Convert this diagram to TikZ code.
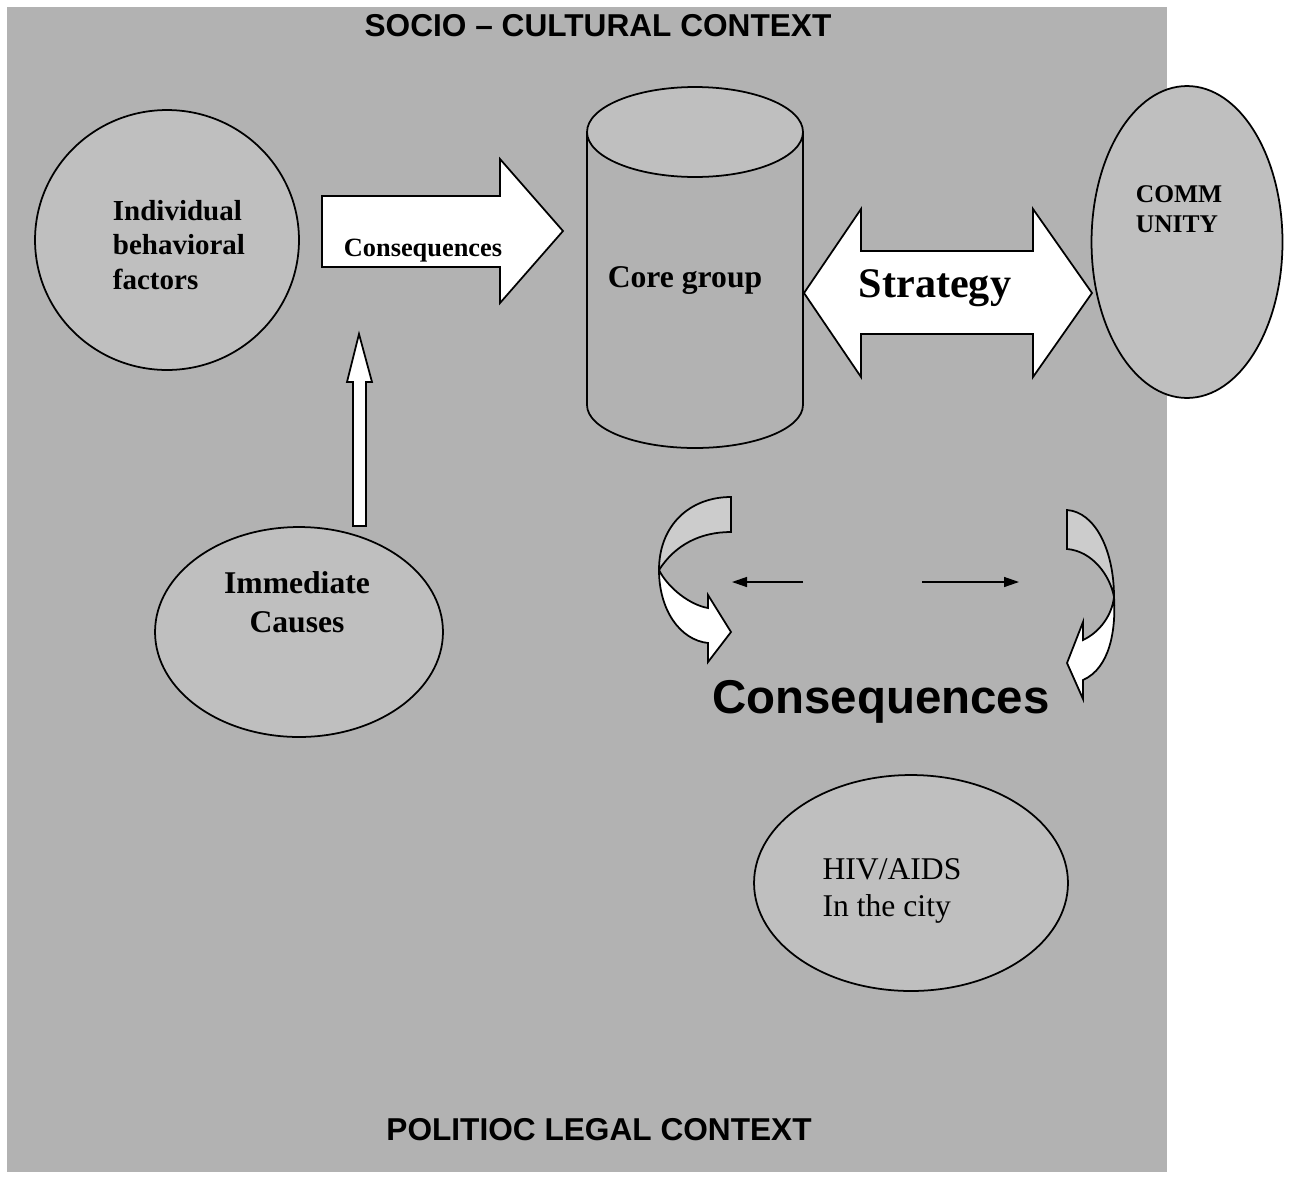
\documentclass[tikz,border=0pt]{standalone}
\usepackage{fontspec}
\setmainfont{Liberation Serif}
\setsansfont{Liberation Sans}
\usetikzlibrary{shapes.geometric,arrows.meta}

\definecolor{ctxgray}{gray}{0.70}
\definecolor{blobgray}{gray}{0.75}
\definecolor{bandgray}{gray}{0.80}

\begin{document}
\begin{tikzpicture}[x=0.02cm, y=-0.02cm, line width=1pt,
        blob/.style={ellipse, draw, fill=blobgray, inner sep=0pt},
        block/.style={draw, fill=white, line join=miter},
        band/.style={draw, fill=bandgray},
        lbl/.style={inner sep=0pt, font=\bfseries},
        ctx/.style={inner sep=0pt, font=\sffamily\bfseries\fontsize{18}{21}\selectfont}]

        \useasboundingbox (0,0) rectangle (1290,1180);
        \fill[ctxgray] (7,7) rectangle (1167,1172);

        \node[ctx] (socio) at (598,26) {SOCIO – CULTURAL CONTEXT};
        \node[ctx] (politic) at (599,1130) {POLITIOC LEGAL CONTEXT};

        % ellipses
        \node[blob, minimum width=5.28cm, minimum height=5.2cm] (indiv) at (167,240) {};
        \node[blob, minimum width=5.76cm, minimum height=4.2cm] (immed) at (299,632) {};
        \node[blob, minimum width=3.82cm, minimum height=6.24cm] (comm) at (1187,242) {};
        \node[blob, minimum width=6.28cm, minimum height=4.32cm] (hiv) at (911,883) {};

        \node[lbl, align=left, font=\bfseries\fontsize{16.5}{19.8}\selectfont] (indivtxt) at (179,245) {Individual\\behavioral\\factors};
        \node[lbl, align=center, font=\bfseries\fontsize{18}{22}\selectfont] (immedtxt) at (297,602) {Immediate\\Causes};
        \node[lbl, align=left, font=\bfseries\fontsize{14.5}{17}\selectfont] (commtxt) at (1179,209) {COMM\\UNITY};
        \node[inner sep=0pt, align=left, font=\fontsize{18}{21.5}\selectfont] (hivtxt) at (892,891) {HIV/AIDS\\In the city};

        % core group cylinder
        \draw[fill=ctxgray] (587,132) -- (587,405) arc[start angle=180, end angle=360, x radius=2.16cm, y radius=0.86cm] -- (803,132);
        \draw[fill=blobgray] (695,132) ellipse [x radius=2.16cm, y radius=0.9cm];
        \node[lbl, anchor=base, font=\bfseries\fontsize{18}{21}\selectfont] (core) at (685,287) {Core group};

        % block arrows
        \draw[block] (322,196) -- (500,196) -- (500,159) -- (563,231) -- (500,303) -- (500,267) -- (322,267) -- cycle;
        \node[lbl, anchor=base, font=\bfseries\fontsize{15}{18}\selectfont] (conseq) at (423,256) {Consequences};

        \draw[block] (804,293) -- (861,209) -- (861,251) -- (1033,251) -- (1033,209) -- (1092,293)
                -- (1033,377) -- (1033,334) -- (861,334) -- (861,377) -- cycle;
        \node[lbl, anchor=base, font=\bfseries\fontsize{24}{28}\selectfont] (strat) at (935,297) {Strategy};

        \draw[block] (353,526) -- (353,382) -- (347,382) -- (359,334) -- (372,382) -- (366,382) -- (366,526) -- cycle;

        % curved arrows
        \draw[band] (731,497) .. controls (690,497) and (659,525) .. (659,570)
                .. controls (675,545) and (700,532) .. (731,532) -- cycle;
        \draw[block] (659,570) .. controls (659,610) and (680,640) .. (708,643)
                -- (708,662) -- (731,632) -- (708,595) -- (708,608)
                .. controls (690,605) and (668,588) .. (659,570) -- cycle;

        \draw[band] (1067,510) .. controls (1095,512) and (1114,550) .. (1114,597)
                .. controls (1110,575) and (1092,551) .. (1067,549) -- cycle;
        \draw[block] (1114,597) .. controls (1116,630) and (1110,668) .. (1083,680)
                -- (1083,699) -- (1067,663) -- (1083,622) -- (1083,640)
                .. controls (1100,632) and (1112,615) .. (1114,597) -- cycle;

        \coordinate (lfrom) at (803,582);
        \coordinate (lto) at (732,582);
        \coordinate (rfrom) at (922,582);
        \coordinate (rto) at (1019,582);
        \draw[line width=0.8pt, -{Triangle[length=3mm, width=2mm]}] (lfrom) -- (lto);
        \draw[line width=0.8pt, -{Triangle[length=3mm, width=2mm]}] (rfrom) -- (rto);

        \node[inner sep=0pt, anchor=base, font=\sffamily\bfseries\fontsize{27}{32}\selectfont] (bigconseq) at (881,713) {Consequences};
\end{tikzpicture}
\end{document}
